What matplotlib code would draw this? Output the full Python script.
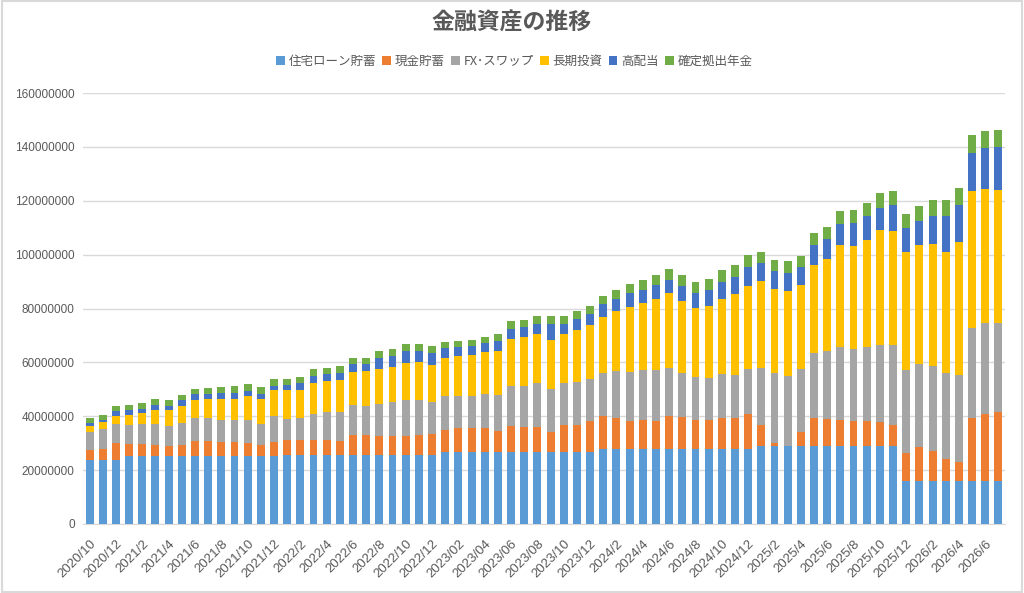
import numpy as np
import matplotlib
matplotlib.use("Agg")
import matplotlib.pyplot as plt
from matplotlib.patches import Rectangle

plt.rcParams['font.family'] = ['Noto Sans CJK JP', 'DejaVu Sans']

# 2020/10 .. 2026/7 (monthly), values in millions of yen
housing = [23.8, 23.8, 23.8, 25.1, 25.1, 25.1, 25.1, 25.1, 25.1, 25.1, 25.1, 25.1, 25.1, 25.1, 25.1,
           25.8, 25.8, 25.8, 25.8, 25.8, 25.8, 25.8, 25.8, 25.8, 25.8, 25.8, 25.8,
           26.8, 26.8, 26.8, 26.8, 26.8, 26.8, 26.8, 26.8, 26.8, 26.8, 26.8, 26.8,
           27.9, 27.9, 27.9, 27.9, 27.9, 27.8, 27.8, 27.8, 27.8, 27.8, 27.8, 27.8,
           28.8, 28.8, 28.8, 28.8, 28.8, 28.8, 28.8, 28.8, 28.8, 28.8, 28.8,
           15.9, 15.9, 15.9, 15.9, 15.9, 15.9, 15.9, 15.9]
cash = [3.7, 4.1, 6.2, 4.6, 4.6, 4.1, 3.7, 4.4, 5.8, 5.8, 5.4, 5.4, 4.9, 4.4, 5.4,
        5.4, 5.4, 5.4, 5.2, 4.9, 7.2, 7.2, 6.9, 6.9, 6.9, 7.4, 7.7,
        8.1, 8.9, 8.9, 8.9, 7.6, 9.5, 9.2, 9.2, 7.4, 9.9, 9.9, 11.3,
        12.1, 11.5, 10.4, 10.6, 10.4, 12.3, 12.0, 10.7, 10.7, 11.6, 11.5, 12.9,
        7.9, 1.2, 0.0, 5.2, 10.5, 10.2, 9.8, 9.6, 9.6, 9.1, 8.1,
        10.4, 12.5, 11.1, 8.2, 7.1, 23.4, 25.0, 25.5]
fx_swap = [6.7, 7.2, 7.1, 7.0, 7.3, 7.8, 7.6, 8.1, 8.4, 8.4, 8.2, 8.0, 8.5, 7.6, 9.5,
           7.8, 8.1, 9.7, 10.5, 10.8, 11.0, 10.7, 11.9, 12.6, 13.3, 12.8, 11.7,
           12.5, 12.0, 12.0, 12.4, 13.6, 14.8, 15.4, 16.2, 15.9, 15.5, 15.9, 15.7,
           16.2, 17.3, 18.0, 18.7, 19.0, 17.8, 16.4, 16.1, 15.7, 16.2, 16.0, 16.8,
           21.2, 26.0, 26.1, 23.7, 24.3, 25.4, 27.1, 26.7, 27.3, 28.6, 29.6,
           30.7, 30.9, 31.6, 32.1, 32.2, 33.3, 33.7, 33.3]
long_term = [2.0, 2.6, 3.0, 3.6, 4.1, 5.3, 5.9, 6.2, 6.7, 7.0, 7.8, 8.0, 9.0, 9.4, 9.6,
             10.8, 10.5, 11.6, 11.5, 12.1, 12.4, 13.0, 12.9, 13.1, 13.9, 14.1, 13.9,
             14.3, 14.5, 15.0, 15.7, 16.4, 17.5, 18.0, 18.2, 18.3, 18.2, 19.4, 20.0,
             20.8, 22.4, 24.4, 25.0, 26.4, 27.7, 26.5, 25.5, 26.7, 28.0, 29.9, 30.8,
             32.3, 31.4, 31.6, 30.9, 32.7, 34.0, 37.8, 38.0, 39.9, 42.5, 42.1,
             43.9, 44.4, 45.5, 44.9, 49.4, 51.1, 49.8, 49.4]
high_div = [1.3, 0.9, 1.8, 1.9, 1.7, 2.0, 1.5, 2.1, 2.1, 2.1, 2.1, 2.3, 1.9, 1.8, 1.8,
            1.8, 2.7, 2.6, 2.6, 2.6, 2.9, 2.6, 4.1, 4.1, 4.5, 4.3, 4.5,
            3.5, 3.6, 3.2, 3.5, 3.5, 3.7, 3.7, 4.0, 5.8, 4.0, 4.2, 4.0,
            4.5, 4.5, 4.9, 4.5, 5.1, 5.1, 5.6, 5.8, 6.1, 6.4, 6.5, 7.1,
            6.7, 6.4, 6.8, 6.8, 7.3, 7.3, 8.0, 8.5, 8.6, 8.4, 9.8,
            8.9, 8.6, 10.2, 13.1, 13.9, 14.2, 15.0, 15.9]
dc_pension = [1.8, 2.0, 2.0, 2.0, 2.1, 2.0, 2.4, 2.0, 2.1, 2.1, 2.3, 2.3, 2.5, 2.4, 2.4,
              2.2, 2.1, 2.4, 2.4, 2.3, 2.2, 2.4, 2.6, 2.4, 2.3, 2.6, 2.3,
              2.5, 2.3, 2.5, 2.3, 2.6, 3.0, 2.8, 3.0, 3.1, 2.9, 2.9, 3.2,
              3.2, 3.4, 3.5, 3.8, 3.5, 4.1, 4.0, 4.0, 3.9, 4.4, 4.3, 4.4,
              4.2, 4.2, 4.2, 4.2, 4.4, 4.4, 4.7, 4.8, 4.9, 5.6, 5.4,
              5.4, 5.6, 5.8, 5.9, 6.1, 6.5, 6.4, 6.3]

series_names = ['住宅ローン貯蓄', '現金貯蓄', 'FX･スワップ', '長期投資', '高配当', '確定拠出年金']
colors = ['#5B9BD5', '#ED7D31', '#A5A5A5', '#FFC000', '#4472C4', '#70AD47']

tick_labels = ['2020/10', '2020/12', '2021/2', '2021/4', '2021/6', '2021/8', '2021/10', '2021/12',
               '2022/2', '2022/4', '2022/6', '2022/8', '2022/10', '2022/12',
               '2023/02', '2023/04', '2023/06', '2023/08', '2023/10', '2023/12',
               '2024/2', '2024/4', '2024/6', '2024/8', '2024/10', '2024/12',
               '2025/2', '2025/4', '2025/6', '2025/8', '2025/10', '2025/12',
               '2026/2', '2026/4', '2026/6']

data = [housing, cash, fx_swap, long_term, high_div, dc_pension]
n = len(housing)
x = np.arange(n)

fig = plt.figure(figsize=(10.24, 5.93), dpi=100)
ax = fig.add_axes([83 / 1024, 1 - 524 / 593, 922 / 1024, 431 / 593])

bottom = np.zeros(n)
for vals, name, c in zip(data, series_names, colors):
    v = np.array(vals) * 1e6
    ax.bar(x, v, width=0.6, bottom=bottom, color=c, label=name, zorder=3)
    bottom += v

ax.set_xlim(-0.5, n - 0.5)
ax.set_ylim(0, 160000000)
ax.set_yticks(np.arange(0, 160000001, 20000000))
ax.set_yticklabels([str(int(t)) for t in np.arange(0, 160000001, 20000000)],
                   fontsize=8.5, color='#595959', family=['Liberation Sans', 'DejaVu Sans'])
ax.set_xticks(x[::2])
ax.set_xticklabels(tick_labels, rotation=45, ha='right', rotation_mode='anchor',
                   fontsize=9.5, color='#595959', family=['Liberation Sans', 'DejaVu Sans'])
ax.tick_params(axis='y', length=0, pad=6)
ax.tick_params(axis='x', length=0, pad=10)
ax.grid(axis='y', color='#D9D9D9', linewidth=1, zorder=0)
for s in ['top', 'right', 'left']:
    ax.spines[s].set_visible(False)
ax.spines['bottom'].set_color('#D9D9D9')

fig.text(0.5, 1 - 23 / 593, '金融資産の推移', ha='center', va='center',
         fontsize=16.5, fontweight='bold', color='#595959')
fig.legend(loc='center', bbox_to_anchor=(0.502, 1 - 61 / 593), ncol=6, frameon=False,
           fontsize=9, handlelength=0.7, handleheight=0.7, handletextpad=0.3,
           columnspacing=0.5, labelcolor='#595959')

fig.patches.append(Rectangle((0.002, 0.002), 0.996, 0.996, transform=fig.transFigure,
                             fill=False, edgecolor='#D9D9D9', linewidth=1.5))

fig.savefig('out.png', dpi=100, facecolor='white')
